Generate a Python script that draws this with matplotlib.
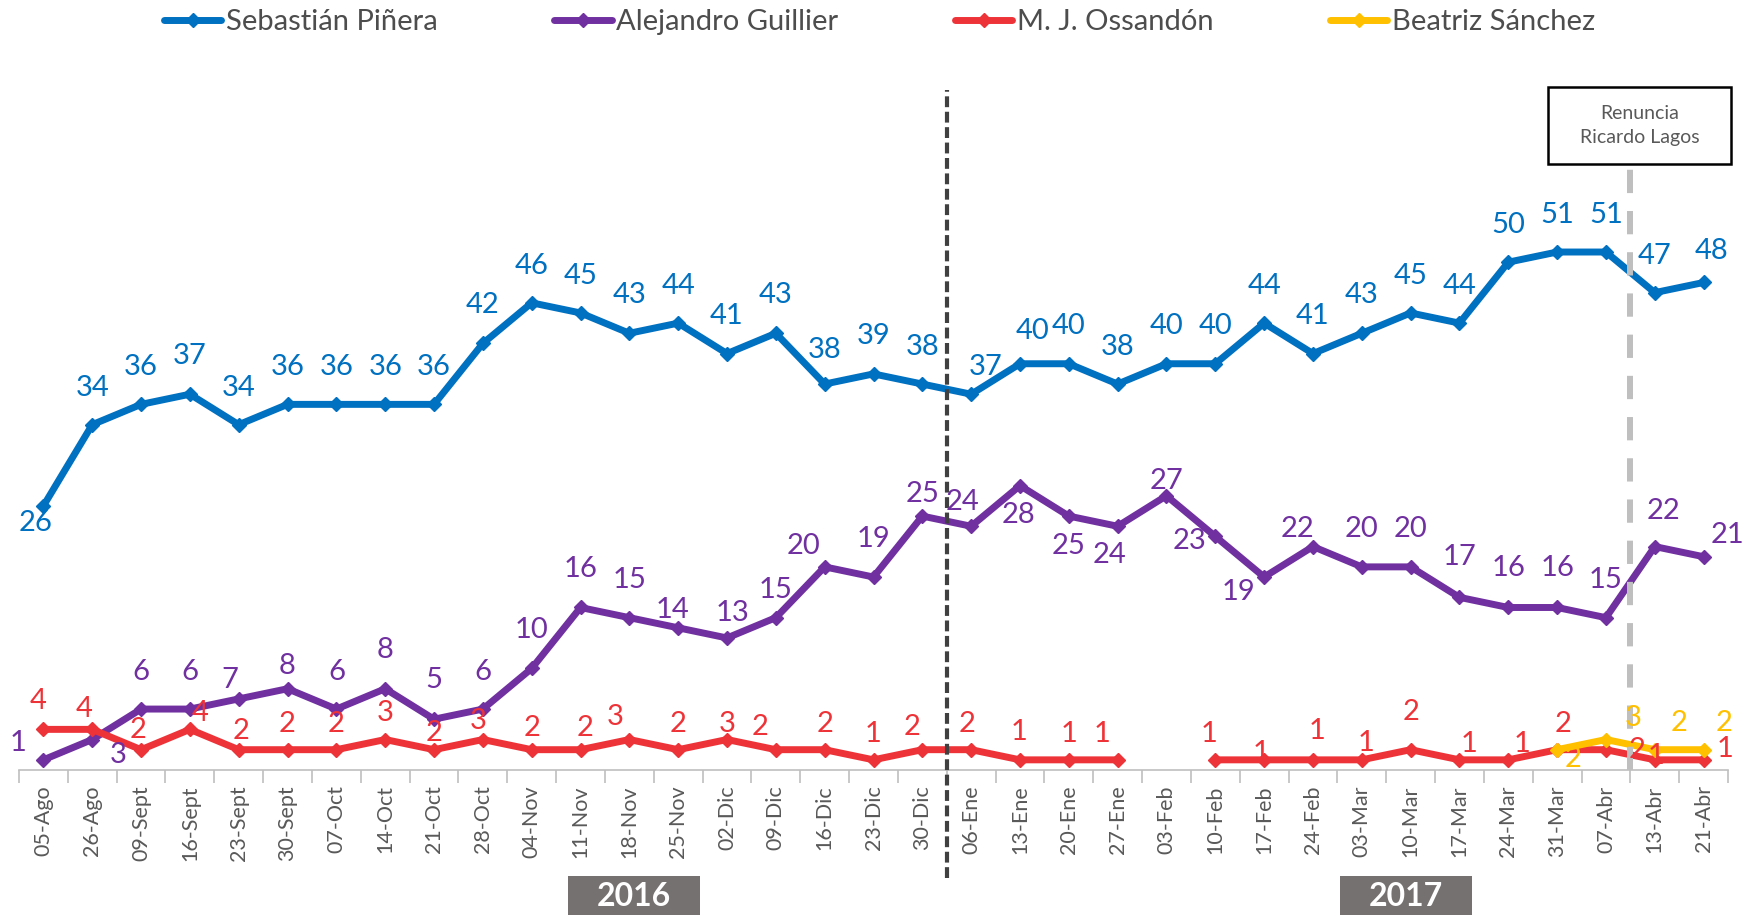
"""Encuesta: intención de voto presidencial, ago 2016 - abr 2017."""

import numpy as np
import matplotlib

matplotlib.use("Agg")
import matplotlib.pyplot as plt
from matplotlib import transforms
from matplotlib.patches import Rectangle

plt.rcParams["font.family"] = ["Lato", "DejaVu Sans"]

# --- data -----------------------------------------------------------------
dates = [
    "05-Ago", "26-Ago", "09-Sept", "16-Sept", "23-Sept", "30-Sept", "07-Oct",
    "14-Oct", "21-Oct", "28-Oct", "04-Nov", "11-Nov", "18-Nov", "25-Nov",
    "02-Dic", "09-Dic", "16-Dic", "23-Dic", "30-Dic", "06-Ene", "13-Ene",
    "20-Ene", "27-Ene", "03-Feb", "10-Feb", "17-Feb", "24-Feb", "03-Mar",
    "10-Mar", "17-Mar", "24-Mar", "31-Mar", "07-Abr", "13-Abr", "21-Abr",
]
pinera = [26, 34, 36, 37, 34, 36, 36, 36, 36, 42, 46, 45, 43, 44, 41, 43, 38,
          39, 38, 37, 40, 40, 38, 40, 40, 44, 41, 43, 45, 44, 50, 51, 51, 47, 48]
guillier = [1, 3, 6, 6, 7, 8, 6, 8, 5, 6, 10, 16, 15, 14, 13, 15, 20, 19, 25,
            24, 28, 25, 24, 27, 23, 19, 22, 20, 20, 17, 16, 16, 15, 22, 21]
ossandon = [4, 4, 2, 4, 2, 2, 2, 3, 2, 3, 2, 2, 3, 2, 3, 2, 2, 1, 2, 2, 1, 1, 1,
            np.nan, 1, 1, 1, 1, 2, 1, 1, 2, 2, 1, 1]
sanchez = [np.nan] * 31 + [2, 3, 2, 2]

names = ["Sebastián Piñera", "Alejandro Guillier", "M. J. Ossandón",
         "Beatriz Sánchez"]
years = ["2016", "2017"]
event_text = "Renuncia\nRicardo Lagos"

# --- style ----------------------------------------------------------------
COLORS = ["#0070C0", "#7030A0", "#EE3338", "#FFC000"]
GREY_TEXT = "#595959"
YEAR_X = [12.1, 27.9]          # centre of the year boxes (category units)
YEAR_SPLIT = 18.5              # between 30-Dic and 06-Ene
EVENT_X = 32.5                 # between 07-Abr and 13-Abr
PX = 1.1186 * 0.72             # offsets below are in reference px -> points

# label offsets (dx, dy) in px, dy positive = downwards
OFF_PINERA = [(-7, 15), (0, -33), (0, -33), (0, -34), (0, -33), (0, -33),
              (0, -33), (0, -33), (0, -33), (0, -34), (0, -33), (0, -33),
              (0, -34), (0, -33), (0, -34), (0, -34), (0, -30), (0, -34),
              (0, -33), (13, -24), (11, -29), (0, -34), (0, -33), (0, -34),
              (0, -34), (0, -33), (0, -34), (0, -34), (0, -33), (0, -33),
              (0, -33), (0, -33), (0, -33), (0, -33), (7, -28)]
OFF_GUILLIER = [(-23, -15), (23, 14), (0, -33), (0, -33), (-8, -17), (0, -20),
                (0, -33), (0, -35), (0, -35), (0, -33), (0, -34), (0, -34),
                (0, -34), (-5, -16), (5, -22), (0, -25), (-19, -19), (0, -34),
                (0, -20), (-8, -22), (-1, 26), (0, 27), (-7, 26), (0, -13),
                (-23, 4), (-23, 13), (-14, -16), (0, -34), (0, -34), (0, -36),
                (0, -35), (0, -35), (0, -34), (8, -32), (21, -19)]
OFF_OSSANDON = [(-5, -25), (-7, -18), (-3, -18), (9, -15), (2, -17), (0, -23),
                (0, -23), (0, -24), (0, -15), (-4, -17), (0, -19), (4, -19),
                (-13, -20), (0, -23), (0, -14), (-14, -20), (0, -23), (0, -23),
                (-9, -20), (-4, -23), (-1, -25), (0, -23), (-14, -23), None,
                (-6, -23), (-3, -6), (4, -26), (4, -15), (0, -34), (9, -14),
                (12, -14), (5, -23), (28, 0), (1, -3), (19, -10)]
OFF_SANCHEZ = [None] * 31 + [(14, 8), (24, -19), (22, -24), (18, -24)]


def main():
    fig = plt.figure(figsize=(17.54, 9.15), dpi=100)
    ax = fig.add_axes([0.01083, 0.15847, 0.97435, 0.7437])
    x = np.arange(len(dates))

    series = [pinera, guillier, ossandon, sanchez]
    offsets = [OFF_PINERA, OFF_GUILLIER, OFF_OSSANDON, OFF_SANCHEZ]
    handles = []
    for vals, name, color in zip(series, names, COLORS):
        (h,) = ax.plot(x, vals, color=color, lw=5, marker="D", markersize=7.5,
                       solid_capstyle="round", solid_joinstyle="round",
                       label=name, zorder=3, clip_on=False)
        handles.append(h)

    for vals, offs, color in zip(series, offsets, COLORS):
        for i, v in enumerate(vals):
            if np.isnan(v) or offs[i] is None:
                continue
            dx, dy = offs[i]
            ax.annotate(f"{v:.0f}", (i, v), xytext=(dx * PX, -dy * PX),
                        textcoords="offset points", ha="center", va="center",
                        fontsize=21, color=color, zorder=5)

    ax.set_xlim(-0.5, len(dates) - 0.5)
    ax.set_ylim(0, 67)
    for side in ("left", "right", "top"):
        ax.spines[side].set_visible(False)
    ax.spines["bottom"].set_color("#BFBFBF")
    ax.spines["bottom"].set_linewidth(1.2)
    ax.set_yticks([])
    ax.set_xticks(x)
    ax.set_xticklabels(dates, rotation=90, fontsize=15.5, color=GREY_TEXT)
    ax.tick_params(axis="x", which="major", length=0, pad=11)
    ax.set_xticks(np.arange(-0.5, len(dates), 1), minor=True)
    ax.tick_params(axis="x", which="minor", length=9, width=1.2,
                   color="#BFBFBF")

    # year split and event markers
    ax.vlines(YEAR_SPLIT, -10.6, 67, colors="#404040", lw=3,
              linestyles=(0, (2.6, 1.1)), clip_on=False, zorder=4)
    ax.vlines(EVENT_X, 0, 59.7, colors="#BFBFBF", lw=4.3,
              linestyles=(0, (3.9, 3.0)), zorder=4)
    ax.add_patch(Rectangle((30.81, 59.7), 3.75, 7.5, facecolor="white",
                           edgecolor="black", lw=1.8, clip_on=False, zorder=6))
    ax.text(32.69, 63.45, event_text, ha="center", va="center", fontsize=14,
            color=GREY_TEXT, linespacing=1.5, zorder=7)

    # year boxes along the bottom
    blend = transforms.blended_transform_factory(ax.transData, fig.transFigure)
    for yr, cx in zip(years, YEAR_X):
        ax.add_patch(Rectangle((cx - 1.35, 0), 2.7, 0.0426, transform=blend,
                               facecolor="#767171", edgecolor="none",
                               clip_on=False))
        ax.text(cx, 0.0197, yr, transform=blend, ha="center", va="center",
                fontsize=23, fontweight="bold", color="white")

    fig.legend(handles, names, loc="center left",
               bbox_to_anchor=(164 / 1754, 1 - 22 / 915), ncol=4,
               frameon=False, fontsize=21, handlelength=1.97,
               handletextpad=0.15, columnspacing=4.0, borderpad=0,
               borderaxespad=0, labelcolor="#4d4d4d")

    fig.savefig("out.png", dpi=100)
    plt.close(fig)


if __name__ == "__main__":
    main()
